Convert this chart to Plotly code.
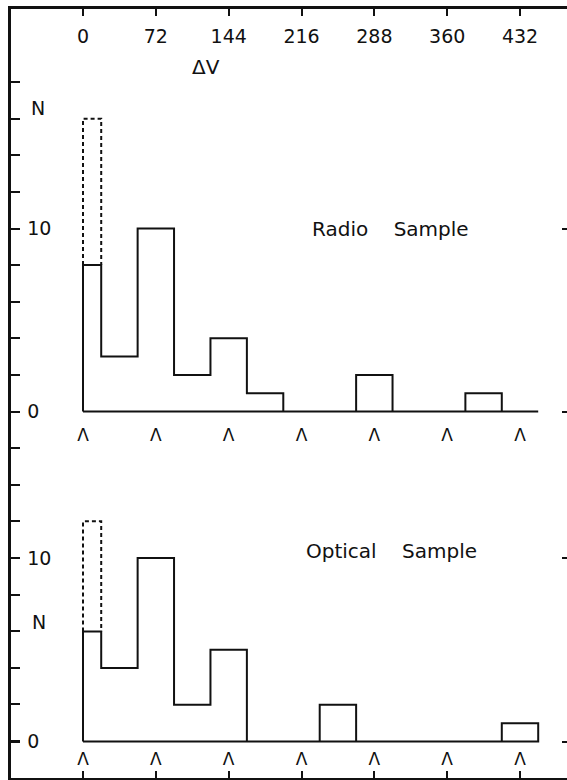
import plotly.graph_objects as go

# ---------------- data ----------------
bin_edges = [0, 18, 54, 90, 126, 162, 198, 234, 270, 306, 342, 378, 414, 450]
radio_counts = [8, 3, 10, 2, 4, 1, 0, 0, 2, 0, 0, 1, 0]
radio_first_total = 16          # dashed extension of first bin
optical_counts = [6, 4, 10, 2, 5, 0, 0, 2, 0, 0, 0, 0, 1]
optical_first_total = 12        # dashed extension of first bin

dv_ticks = [0, 72, 144, 216, 288, 360, 432]
dv_labels = ["0", "72", "144", "216", "288", "360", "432"]
n_ticks = [0, 10]
n_labels = ["0", "10"]
radio_title = "Radio\u00a0\u00a0\u00a0\u00a0Sample"
optical_title = "Optical\u00a0\u00a0\u00a0\u00a0Sample"

# ---------------- helpers ----------------
def step_outline(edges, counts):
    xs, ys = [edges[0]], [0]
    for i, c in enumerate(counts):
        xs += [edges[i], edges[i + 1]]
        ys += [c, c]
    xs += [edges[-1], edges[0]]
    ys += [0, 0]
    return xs, ys

FONT = "DejaVu Sans"
BLACK = "#111111"

W, H = 567, 780
ML, MR, MT, MB = 11, 0, 9, 2
PW, PH = W - ML - MR, H - MT - MB

# x scale: 0 -> 83 px, 432 -> 520 px
xs_ = (520 - 83) / 432.0
x_lo = -(83 - ML) / xs_
x_hi = x_lo + PW / xs_
# radio y: 0 -> 411.5 px, 10 -> 228.5 px
ry = 18.3
ry_hi = (411.5 - MT) / ry
ry_lo = -(MT + PH - 411.5) / ry
# optical y: 0 -> 741.5 px, 10 -> 558 px
oy = 18.35
oy_hi = (741.5 - MT) / oy
oy_lo = -(MT + PH - 741.5) / oy

fig = go.Figure()

rx, ryv = step_outline(bin_edges, radio_counts)
fig.add_trace(go.Scatter(x=rx, y=ryv, mode="lines", line=dict(color=BLACK, width=2),
                         xaxis="x", yaxis="y", hoverinfo="skip"))
fig.add_trace(go.Scatter(x=[bin_edges[0], bin_edges[0], bin_edges[1], bin_edges[1]],
                         y=[radio_counts[0], radio_first_total, radio_first_total, radio_counts[0]],
                         mode="lines", line=dict(color=BLACK, width=2, dash="4px,3px"),
                         xaxis="x", yaxis="y", hoverinfo="skip"))
ox, oyv = step_outline(bin_edges, optical_counts)
fig.add_trace(go.Scatter(x=ox, y=oyv, mode="lines", line=dict(color=BLACK, width=2),
                         xaxis="x", yaxis="y2", hoverinfo="skip"))
fig.add_trace(go.Scatter(x=[bin_edges[0], bin_edges[0], bin_edges[1], bin_edges[1]],
                         y=[optical_counts[0], optical_first_total, optical_first_total, optical_counts[0]],
                         mode="lines", line=dict(color=BLACK, width=2, dash="4px,3px"),
                         xaxis="x", yaxis="y2", hoverinfo="skip"))

# carets under each histogram at the Delta-V tick positions
fig.add_trace(go.Scatter(x=dv_ticks, y=[-(437 - 411.5) / ry] * len(dv_ticks), mode="text",
                         text=["\u039b"] * len(dv_ticks), textposition="middle center",
                         textfont=dict(family=FONT, size=17, color=BLACK),
                         xaxis="x", yaxis="y3", hoverinfo="skip"))
fig.add_trace(go.Scatter(x=dv_ticks, y=[-(761 - 741.5) / oy] * len(dv_ticks), mode="text",
                         text=["\u039b"] * len(dv_ticks), textposition="middle center",
                         textfont=dict(family=FONT, size=17, color=BLACK),
                         xaxis="x", yaxis="y4", hoverinfo="skip"))

left_vals = list(range(-18, 19, 2))
left_text = [str(v) if v in n_ticks else "" for v in left_vals]

fig.update_layout(
    width=W, height=H,
    margin=dict(l=ML, r=MR, t=MT, b=MB, autoexpand=False),
    paper_bgcolor="white", plot_bgcolor="white",
    showlegend=False,
    font=dict(family=FONT, color=BLACK, size=19),
    xaxis=dict(range=[x_lo, x_hi], domain=[0, 1], side="top", anchor="y",
               showline=True, linewidth=3, linecolor=BLACK, mirror="ticks",
               ticks="inside", ticklen=7, tickwidth=2, tickcolor=BLACK,
               tickvals=dv_ticks, ticktext=dv_labels,
               ticklabelposition="inside", ticklabelstandoff=15,
               tickfont=dict(family=FONT, size=19, color=BLACK),
               showgrid=False, zeroline=False, fixedrange=True, automargin=False),
    yaxis=dict(range=[ry_lo, ry_hi], domain=[0, 1], anchor="x", side="left",
               showline=True, linewidth=3, linecolor=BLACK,
               ticks="inside", ticklen=9, tickwidth=2, tickcolor=BLACK,
               tickvals=left_vals, ticktext=left_text,
               ticklabelposition="inside", ticklabelstandoff=8,
               tickfont=dict(family=FONT, size=19, color=BLACK),
               showgrid=False, zeroline=False, fixedrange=True, automargin=False),
    yaxis2=dict(range=[oy_lo, oy_hi], overlaying="y", anchor="x", side="left",
                showline=False, ticks="inside", ticklen=9, tickwidth=2, tickcolor=BLACK,
                tickvals=n_ticks, ticktext=n_labels,
                ticklabelposition="inside", ticklabelstandoff=8,
                tickfont=dict(family=FONT, size=19, color=BLACK),
                showgrid=False, zeroline=False, fixedrange=True, automargin=False),
    yaxis3=dict(range=[ry_lo, ry_hi], overlaying="y", anchor="x", side="right",
                showline=False, ticks="inside", ticklen=5, tickwidth=2, tickcolor=BLACK,
                tickvals=n_ticks, showticklabels=False,
                showgrid=False, zeroline=False, fixedrange=True, automargin=False),
    yaxis4=dict(range=[oy_lo, oy_hi], overlaying="y", anchor="x", side="right",
                showline=False, ticks="inside", ticklen=5, tickwidth=2, tickcolor=BLACK,
                tickvals=n_ticks, showticklabels=False,
                showgrid=False, zeroline=False, fixedrange=True, automargin=False),
)

def px_x(px):
    return (px - 83) / xs_

annotations = [
    dict(text="N", x=px_x(37.5), y=(411.5 - 108) / ry, xref="x", yref="y"),
    dict(text="N", x=px_x(39), y=(741.5 - 622) / oy, xref="x", yref="y2"),
    dict(text="\u0394V", x=px_x(206), y=(411.5 - 66.5) / ry, xref="x", yref="y", font=dict(size=20)),
    dict(text=radio_title, x=px_x(390), y=(411.5 - 229) / ry, xref="x", yref="y", font=dict(size=20)),
    dict(text=optical_title, x=px_x(391.5), y=(741.5 - 551) / oy, xref="x", yref="y2", font=dict(size=20)),
]
for a in annotations:
    f = dict(family=FONT, size=19, color=BLACK)
    f.update(a.pop("font", {}))
    fig.add_annotation(**a, showarrow=False, font=f, xanchor="center", yanchor="middle")

fig.write_html("out.html",
               config={"displayModeBar": False, "staticPlot": True},
               post_script="document.body.style.margin='0';document.body.style.padding='0';")
